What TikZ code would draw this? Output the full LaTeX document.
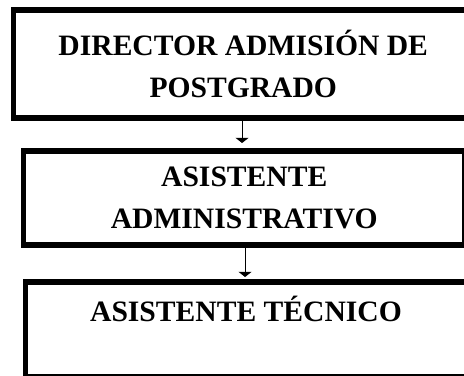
\documentclass[tikz,border=0pt]{standalone}
\usepackage{fontspec}
\setmainfont{Liberation Serif}
\usetikzlibrary{arrows.meta}
\tikzset{cargo/.style={draw, line width=2.6pt, align=center, font=\fontsize{14.8}{21}\selectfont\bfseries, inner sep=0pt}}

\begin{document}
\begin{tikzpicture}[x=0.5pt, y=-0.5pt, >={Triangle[width=6.5pt,length=2.6pt]}]
\useasboundingbox (0,0) rectangle (464,375);
\clip (0,0) rectangle (464,375);
\node[cargo, minimum width=229.75pt, minimum height=54pt] (director) at (243.25,64) {DIRECTOR ADMISIÓN DE\\POSTGRADO};
\node[cargo, minimum width=220.75pt, minimum height=47pt] (admin) at (244.25,198) {ASISTENTE\\ADMINISTRATIVO};
\node[cargo, minimum width=220.5pt, minimum height=47.5pt] (tecnico) at (246,329.5) {ASISTENTE TÉCNICO\\ \mbox{}};
\draw[->, line width=0.5pt, shorten >=2.7pt] ([xshift=-0.6pt]director.south) -- ([xshift=-0.6pt]director.south |- admin.north);
\draw[->, line width=0.5pt, shorten >=1.2pt] ([xshift=0.4pt]admin.south) -- ([xshift=0.4pt]admin.south |- tecnico.north);
\end{tikzpicture}
\end{document}
